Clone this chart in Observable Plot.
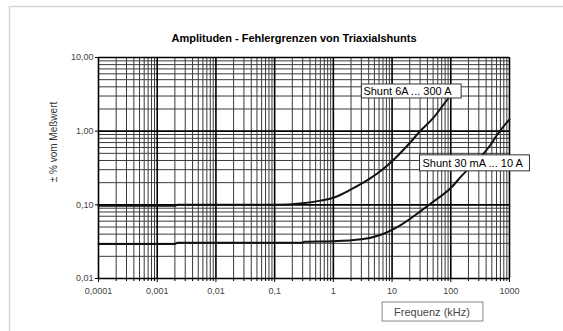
<!DOCTYPE html>
<html><head><meta charset="utf-8">
<script src="https://cdn.jsdelivr.net/npm/d3@7"></script>
<script src="https://cdn.jsdelivr.net/npm/@observablehq/plot@0.6"></script>
<style>html,body{margin:0;background:#fff;overflow:hidden;} #chart svg{overflow:visible;display:block;}</style>
</head><body><div id="chart"></div>
<script>
const title = "Amplituden - Fehlergrenzen von Triaxialshunts";
const yLabel = "± % vom Meßwert";
const xLabel = "Frequenz (kHz)";
const xTicks = [0.0001, 0.001, 0.01, 0.1, 1, 10, 100, 1000];
const xTickLabels = ["0,0001", "0,001", "0,01", "0,1", "1", "10", "100", "1000"];
const yTicks = [0.01, 0.1, 1, 10];
const yTickLabels = ["0,01", "0,10", "1,00", "10,00"];
const seriesNames = ["Shunt 6A ... 300 A", "Shunt 30 mA ... 10 A"];

// Shunt 6A ... 300 A
const freqHigh = [0.0001, 0.002, 0.0022, 0.1, 0.3, 0.6, 1, 2, 4.3, 6.3, 10, 20, 30, 50, 80, 100];
const errHigh  = [0.097, 0.097, 0.1, 0.1, 0.105, 0.114, 0.125, 0.162, 0.23, 0.285, 0.39, 0.69, 1.0, 1.5, 2.45, 3.1];
// Shunt 30 mA ... 10 A
const freqLow = [0.0001, 0.002, 0.0022, 0.3, 0.32, 1, 3, 6.3, 14, 30, 50, 100, 150, 480, 620, 1000];
const errLow  = [0.0295, 0.0295, 0.0305, 0.0305, 0.0315, 0.032, 0.034, 0.039, 0.053, 0.081, 0.11, 0.169, 0.243, 0.66, 0.9, 1.45];

// label anchors (frequency, error) for the series annotations
const labelFreq = [3.25, 33];
const labelErr = [3.46, 0.366];

const high = freqHigh.map((f, i) => ({f, e: errHigh[i]}));
const low = freqLow.map((f, i) => ({f, e: errLow[i]}));
const labels = seriesNames.map((name, i) => ({name, f: labelFreq[i], e: labelErr[i]}));

const minor = (majors) => majors.slice(0, -1).flatMap(d => d3.range(2, 10).map(k => d * k));
const xMinor = minor(xTicks);
const yMinor = minor(yTicks);

const svg = Plot.plot({
  width: 563,
  height: 331,
  marginLeft: 98,
  marginRight: 54,
  marginTop: 57,
  marginBottom: 53,
  style: {fontFamily: "'Liberation Sans', Arial, sans-serif", fontSize: "9px", color: "#000", background: "#fff"},
  x: {type: "log", domain: [0.0001, 1000], label: null},
  y: {type: "log", domain: [0.01, 10], label: null},
  marks: [
    Plot.ruleX(xMinor, {stroke: "#3a3a3a", strokeWidth: 1}),
    Plot.ruleY(yMinor, {stroke: "#3a3a3a", strokeWidth: 1}),
    Plot.ruleX(xTicks, {stroke: "#000", strokeWidth: 1.6}),
    Plot.ruleY(yTicks, {stroke: "#000", strokeWidth: 1.6}),
    Plot.axisX(xMinor, {tickSize: 3, tickFormat: () => "", label: null}),
    Plot.axisX(xTicks, {tickSize: 4, tickPadding: 5, tickFormat: d => xTickLabels[xTicks.indexOf(d)], fill: "#444", label: null}),
    Plot.axisY(yTicks, {tickSize: 3, tickPadding: 2, tickFormat: d => yTickLabels[yTicks.indexOf(d)], fill: "#444", label: null}),
    Plot.line(high, {x: "f", y: "e", stroke: "#111", strokeWidth: 2, curve: "monotone-x"}),
    Plot.line(low, {x: "f", y: "e", stroke: "#111", strokeWidth: 2, curve: "monotone-x"}),
    Plot.text(labels, {x: "f", y: "e", text: "name", textAnchor: "start", lineAnchor: "middle", fontSize: 11, fill: "#000"}),
    Plot.text([title], {frameAnchor: "top", textAnchor: "middle", lineAnchor: "middle", dx: -10, dy: -19.5, fontWeight: "bold", fontSize: 11, fill: "#000"}),
    Plot.text([yLabel], {frameAnchor: "left", textAnchor: "middle", lineAnchor: "middle", rotate: -90, dx: -45, dy: -26, fontSize: 10, fill: "#333"}),
    Plot.text([xLabel], {frameAnchor: "bottom", textAnchor: "middle", lineAnchor: "middle", dx: 128, dy: 33.5, fontSize: 11, fill: "#444"})
  ]
});
document.getElementById("chart").appendChild(svg);

// boxes behind annotation texts
const boxSpec = {};
boxSpec[seriesNames[0]] = {pad: [2, 9, 1, 1], stroke: "#333"};
boxSpec[seriesNames[1]] = {pad: [3, 6, 2, 2], stroke: "#333"};
boxSpec[xLabel] = {pad: [12, 13, 3.5, 3.5], stroke: "#888"};
const ns = "http://www.w3.org/2000/svg";
svg.querySelectorAll("text").forEach(t => {
  const spec = boxSpec[t.textContent];
  if (!spec) return;
  const bb = t.getBBox();
  const r = document.createElementNS(ns, "rect");
  r.setAttribute("x", bb.x - spec.pad[0]);
  r.setAttribute("y", bb.y - spec.pad[2]);
  r.setAttribute("width", bb.width + spec.pad[0] + spec.pad[1]);
  r.setAttribute("height", bb.height + spec.pad[2] + spec.pad[3]);
  r.setAttribute("fill", "#fff");
  r.setAttribute("stroke", spec.stroke);
  r.setAttribute("stroke-width", 1);
  if (t.getAttribute("transform")) r.setAttribute("transform", t.getAttribute("transform"));
  t.parentNode.insertBefore(r, t);
});

// light outer frame
const frame = document.createElementNS(ns, "path");
frame.setAttribute("d", "M9.5,331V6.5H563");
frame.setAttribute("fill", "none");
frame.setAttribute("stroke", "#d6d6d6");
frame.setAttribute("stroke-width", 1.5);
svg.insertBefore(frame, svg.firstChild);
</script>
</body></html>
